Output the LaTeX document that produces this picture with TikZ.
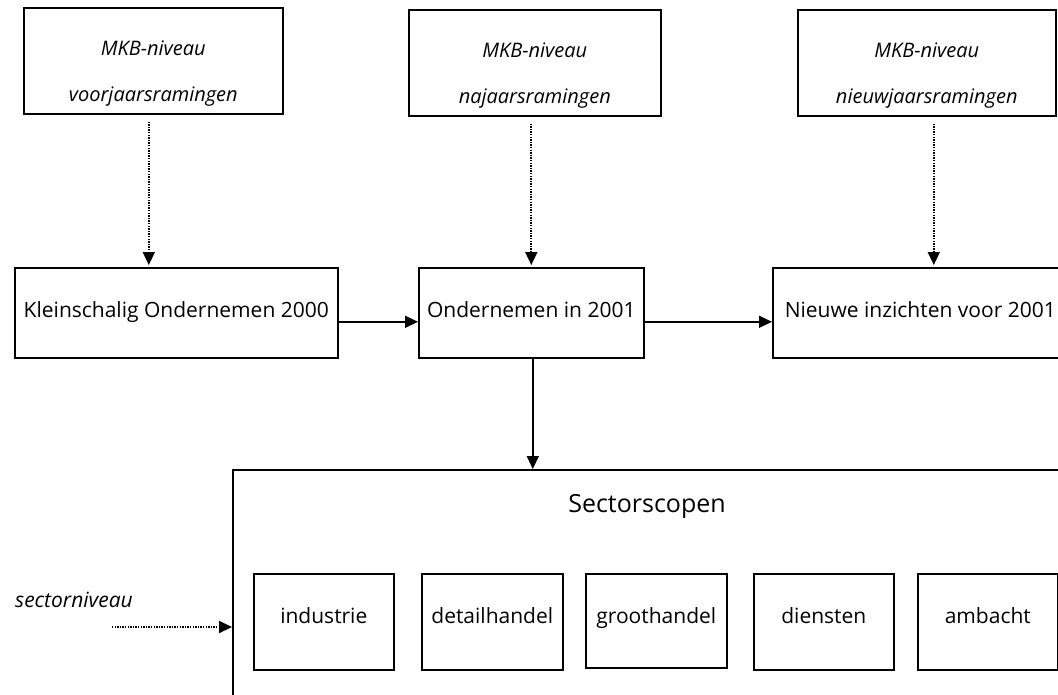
\documentclass[tikz,border=0pt]{standalone}
\usepackage{fontspec}
\setmainfont{Open Sans}
\usetikzlibrary{arrows.meta}
\tikzset{
  every picture/.style={line width=1.6pt, x=1pt, y=-1pt},
  box/.style={draw, rectangle, anchor=north west, inner sep=0pt, align=center, font=\fontsize{21}{25}\selectfont},
  estimate/.style={box, font=\fontsize{20}{24}\selectfont\itshape, text height=94pt, text depth=12pt},
  report/.style={box, text height=50pt, text depth=40pt},
  sectorbox/.style={box, text height=50pt, text depth=46pt, minimum width=140pt},
  arrow/.style={-{Triangle[length=13pt, width=12pt]}, line width=1.4pt},
  dotarrow/.style={arrow, line width=1.7pt, dash pattern=on 1.3pt off 1.3pt},
}

\begin{document}
\begin{tikzpicture}
  \useasboundingbox (0,0) rectangle (1058,694);
  % top row: estimates at MKB level
  \node[estimate, minimum width=259pt] (spring) at (23,7) {MKB-niveau\\[22pt]voorjaarsramingen};
  \node[estimate, minimum width=252pt] (autumn) at (408,9) {MKB-niveau\\[22pt]najaarsramingen};
  \node[estimate, minimum width=258pt] (newyear) at (797,9) {MKB-niveau\\[22pt]nieuwjaarsramingen};
  % middle row: publications
  \node[report, minimum width=323pt] (klein) at (14,267) {Kleinschalig Ondernemen 2000};
  \node[report, minimum width=225pt] (onder) at (418,267) {Ondernemen in 2001};
  \node[report, minimum width=295pt] (nieuw) at (772,267) {Nieuwe inzichten voor 2001};
  % sector level
  \node[box, minimum width=850pt, minimum height=260pt] (sector) at (232,469) {};
  \node[font=\fontsize{25}{30}\selectfont] (sectitle) at (647,506) {Sectorscopen};
  \node[sectorbox] (industrie) at (253,573) {industrie};
  \node[sectorbox, minimum width=141pt] (detail) at (421,573) {detailhandel};
  \node[sectorbox, minimum width=141pt, text depth=44pt] (groot) at (585,573) {groothandel};
  \node[sectorbox] (diensten) at (753,573) {diensten};
  \node[sectorbox] (ambacht) at (917,573) {ambacht};
  \node[font=\fontsize{21}{25}\selectfont\itshape] (secniv) at (74,600) {sectorniveau};
  \coordinate (secin) at (112,627);
  % connectors
  \draw[dotarrow, shorten <=7pt, shorten >=2pt] ([xshift=-4.5pt]spring.south) -- ([xshift=-4.5pt]spring.south |- klein.north);
  \draw[dotarrow, shorten <=7pt, shorten >=2pt] (onder.north |- autumn.south) -- (onder.north);
  \draw[dotarrow, shorten <=7pt, shorten >=2pt] ([xshift=7pt]newyear.south) -- ([xshift=7pt]newyear.south |- nieuw.north);
  \draw[arrow] ([yshift=-9pt]klein.east) -- ([yshift=-9pt]onder.west);
  \draw[arrow] ([yshift=-9pt]onder.east) -- ([yshift=-9pt]nieuw.west);
  \draw[arrow] ([xshift=1.5pt]onder.south) -- ([xshift=1.5pt]onder.south |- sector.north);
  \draw[dotarrow] (secin) -- (secin -| sector.west);
\end{tikzpicture}
\end{document}
